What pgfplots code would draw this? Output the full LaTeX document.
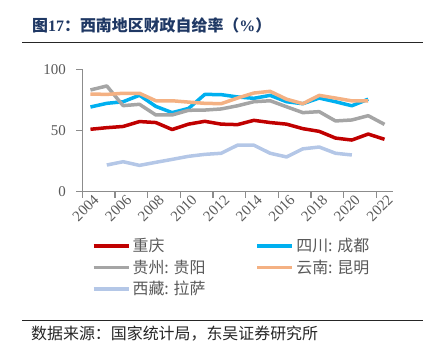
\documentclass[border=0pt]{standalone}
\usepackage{fontspec}
\setmainfont{Liberation Serif}
\newfontfamily\cjk{Noto Sans CJK SC}
\usepackage{pgfplots}
\pgfplotsset{compat=1.18}
\definecolor{cq}{HTML}{C00000}
\definecolor{cd}{HTML}{00B0F0}
\definecolor{gy}{HTML}{A5A5A5}
\definecolor{km}{HTML}{F4B183}
\definecolor{ls}{HTML}{B4C7E7}
\definecolor{navy}{HTML}{1F3864}
\definecolor{axg}{HTML}{8C8C8C}
\definecolor{txg}{HTML}{595959}
\begin{document}
\begin{tikzpicture}
\path[use as bounding box] (0,0) rectangle (433bp,361bp);
\node[anchor=west, inner sep=0, text=navy, font=\fontsize{16}{19}\selectfont\bfseries] at (32bp,336bp) {\cjk 图{\rmfamily 17}：西南地区财政自给率（{\rmfamily\%}）};
\draw[line width=1.6bp, color=black!85] (22bp,318.3bp) -- (423.3bp,318.3bp);
\draw[line width=1.6bp, color=black!85] (22bp,40.3bp) -- (423.3bp,40.3bp);
\node[anchor=west, inner sep=0, font=\fontsize{16}{19}\selectfont\cjk, text=black!85] at (31bp,27bp) {数据来源：国家统计局，东吴证券研究所};
\begin{axis}[
  at={(82.3bp,169.3bp)}, anchor=south west,
  scale only axis, width=310.4bp, height=122.4bp,
  xmin=2003.5, xmax=2022.5, ymin=0, ymax=100,
  axis x line*=bottom, axis y line*=left,
  axis line style={axg, line width=1.2bp},
  tick style={axg, line width=1.2bp},
  tick align=outside, major tick length=6bp,
  xtick={2003.5,2005.5,...,2021.5}, xticklabels={},
  extra x ticks={2004,2006,...,2022},
  extra x tick labels={2004,2006,2008,2010,2012,2014,2016,2018,2020,2022},
  extra x tick style={major tick length=0pt},
  ytick={0,50,100},
  /pgf/number format/assume math mode=true,
  /pgf/number format/1000 sep={},
  tick label style={font=\fontsize{15}{18}\selectfont, text=txg},
  x tick label style={rotate=45, anchor=north east, inner sep=0bp, yshift=-3bp},
  y tick label style={xshift=-7bp},
  legend style={at={(axis description cs:0.03,-0.365)}, anchor=north west, draw=none, fill=none,
    font=\fontsize{16}{19}\selectfont\cjk, text=txg, inner sep=0pt, row sep=2.5bp,
    /tikz/every even column/.append style={column sep=48bp}},
  legend columns=2, legend cell align=left,
  legend image code/.code={\draw[#1, line width=3.8bp] (0bp,0bp) -- (35bp,0bp);},
  every axis plot/.append style={line width=3.5bp, line join=round},
]
\addplot[cq] coordinates {(2004,51) (2005,52.3) (2006,53.3) (2007,57.3) (2008,56.5) (2009,50.8) (2010,55.2) (2011,57.5) (2012,55.2) (2013,54.8) (2014,58.3) (2015,56.5) (2016,55.2) (2017,51.5) (2018,49.3) (2019,43.8) (2020,42.2) (2021,47.1) (2022,42.8)};
\addlegendentry{重庆}
\addplot[cd] coordinates {(2004,69.2) (2005,72.2) (2006,73.5) (2007,78.8) (2008,69.7) (2009,64.6) (2010,68) (2011,79.5) (2012,79.3) (2013,77.4) (2014,76.3) (2015,78.7) (2016,73.5) (2017,71.9) (2018,76.5) (2019,73.5) (2020,70.2) (2021,75.6)};
\addlegendentry{四川: 成都}
\addplot[gy] coordinates {(2004,83.1) (2005,86.4) (2006,70.3) (2007,71.4) (2008,62.7) (2009,62.7) (2010,66.5) (2011,66.7) (2012,67.6) (2013,70.2) (2014,73.5) (2015,74.3) (2016,69.4) (2017,64.6) (2018,65.4) (2019,57.8) (2020,58.6) (2021,62.1) (2022,55)};
\addlegendentry{贵州: 贵阳}
\addplot[km] coordinates {(2004,79.8) (2005,79.5) (2006,80.4) (2007,80.4) (2008,74.3) (2009,74.3) (2010,73.2) (2011,72.2) (2012,71.9) (2013,76.5) (2014,80.6) (2015,82) (2016,75.6) (2017,71.9) (2018,78.7) (2019,76.5) (2020,74.2) (2021,74.1)};
\addlegendentry{云南: 昆明}
\addplot[ls] coordinates {(2005,21.8) (2006,24.5) (2007,21.5) (2008,24) (2009,26.4) (2010,28.9) (2011,30.5) (2012,31.4) (2013,38) (2014,38) (2015,31.4) (2016,28.4) (2017,35) (2018,36.5) (2019,31.4) (2020,30)};
\addlegendentry{西藏: 拉萨}
\end{axis}
\end{tikzpicture}
\end{document}
